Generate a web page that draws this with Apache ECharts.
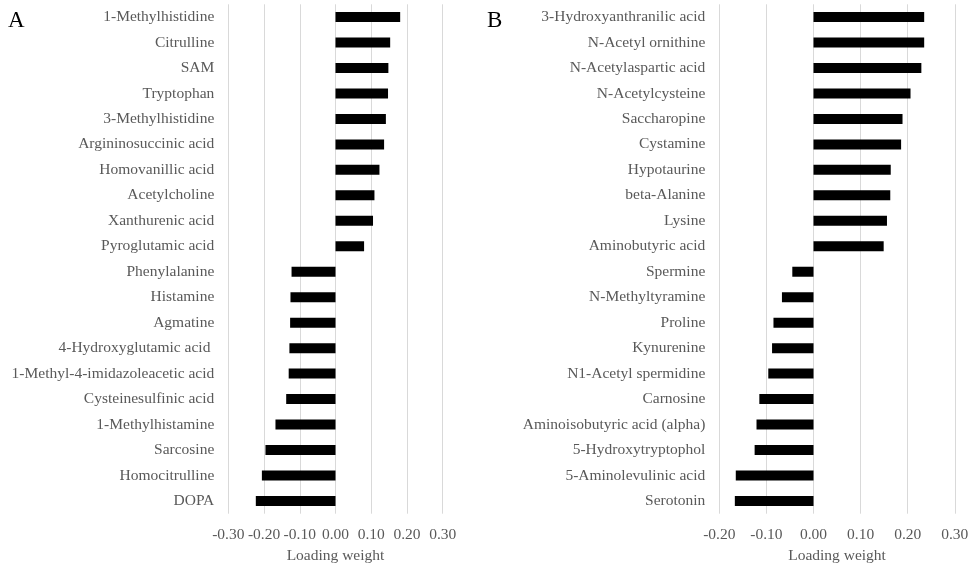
<!DOCTYPE html>
<html>
<head>
<meta charset="utf-8">
<script src="https://cdn.jsdelivr.net/npm/echarts@6/dist/echarts.min.js"></script>
<style>
html,body{margin:0;padding:0;background:#fff;overflow:hidden;}
#chart{width:969px;height:565px;}
</style>
</head>
<body>
<div id="chart"></div>
<script>
const categoriesA = ["1-Methylhistidine","Citrulline","SAM","Tryptophan","3-Methylhistidine","Argininosuccinic acid","Homovanillic acid","Acetylcholine","Xanthurenic acid","Pyroglutamic acid","Phenylalanine","Histamine","Agmatine","4-Hydroxyglutamic acid ","1-Methyl-4-imidazoleacetic acid","Cysteinesulfinic acid","1-Methylhistamine","Sarcosine","Homocitrulline","DOPA"];
const valuesA = [0.181,0.153,0.148,0.147,0.141,0.136,0.123,0.109,0.105,0.080,-0.123,-0.126,-0.127,-0.129,-0.131,-0.138,-0.168,-0.196,-0.206,-0.223];
const categoriesB = ["3-Hydroxyanthranilic acid","N-Acetyl ornithine","N-Acetylaspartic acid","N-Acetylcysteine","Saccharopine","Cystamine","Hypotaurine","beta-Alanine","Lysine","Aminobutyric acid","Spermine","N-Methyltyramine","Proline","Kynurenine","N1-Acetyl spermidine","Carnosine","Aminoisobutyric acid (alpha)","5-Hydroxytryptophol","5-Aminolevulinic acid","Serotonin"];
const valuesB = [0.235,0.235,0.229,0.206,0.189,0.186,0.164,0.163,0.156,0.149,-0.045,-0.067,-0.085,-0.088,-0.096,-0.115,-0.121,-0.125,-0.165,-0.167];
const ticksA = {min:-0.3, max:0.3, interval:0.1};
const ticksB = {min:-0.2, max:0.3, interval:0.1};
const axisTitle = "Loading weight";
const panelLabels = ["A","B"];

const font = "'Liberation Serif', 'Times New Roman', serif";
const gray = "#595959";

function xAxis(idx, t){
  return {
    type:'value', gridIndex:idx, min:t.min, max:t.max, interval:t.interval,
    axisLine:{show:false}, axisTick:{show:false},
    splitLine:{show:true, lineStyle:{color:'#d9d9d9', width:1}},
    axisLabel:{color:gray, fontFamily:font, fontSize:15.5, margin:13, formatter:v=>v.toFixed(2)},
    name:axisTitle, nameLocation:'middle', nameGap:33,
    nameTextStyle:{color:gray, fontFamily:font, fontSize:15.5}
  };
}
function yAxis(idx, cats){
  return {
    type:'category', gridIndex:idx, data:cats, inverse:true,
    axisLine:{show:false}, axisTick:{show:false},
    axisLabel:{color:gray, fontFamily:font, fontSize:15.5, margin:14, interval:0}
  };
}
const chart = echarts.init(document.getElementById('chart'), null, {renderer:'canvas', width:969, height:565});
chart.setOption({
  animation:false,
  backgroundColor:'#fff',
  title:[
    {text:panelLabels[0], left:3, top:4, textStyle:{fontFamily:font, fontSize:23, fontWeight:'normal', color:'#000'}},
    {text:panelLabels[1], left:482, top:4, textStyle:{fontFamily:font, fontSize:23, fontWeight:'normal', color:'#000'}}
  ],
  grid:[
    {left:228.3, width:214.4, top:4.3, bottom:51.3, containLabel:false, outerBoundsMode:'none'},
    {left:719.3, width:235.5, top:4.3, bottom:51.3, containLabel:false, outerBoundsMode:'none'}
  ],
  xAxis:[xAxis(0, ticksA), xAxis(1, ticksB)],
  yAxis:[yAxis(0, categoriesA), yAxis(1, categoriesB)],
  series:[
    {type:'bar', xAxisIndex:0, yAxisIndex:0, data:valuesA, barWidth:10, itemStyle:{color:'#000'}},
    {type:'bar', xAxisIndex:1, yAxisIndex:1, data:valuesB, barWidth:10, itemStyle:{color:'#000'}}
  ]
});
</script>
</body>
</html>
